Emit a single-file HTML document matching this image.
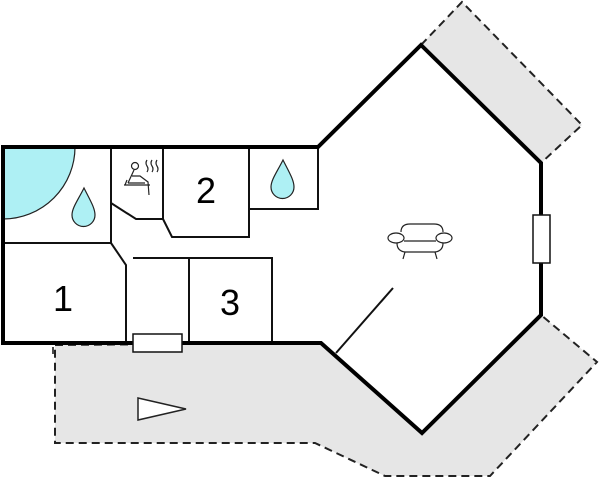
<!DOCTYPE html>
<html><head><style>body{margin:0;background:#fff}svg{display:block}</style></head><body>
<svg width="600" height="479" viewBox="0 0 600 479" xmlns="http://www.w3.org/2000/svg">
<g fill="#e6e6e6" stroke="#222" stroke-width="2" stroke-dasharray="8,5">
<polygon points="421,45 462,2 582,125 541,163"/>
<polygon points="55,345 321,343 422,433 541,315 597,362 490,476 385,476 315,443 55,443"/>
</g>
<polygon points="3,147 318,147 421,45 541,163 541,315 422,433 321,343 3,343" fill="#fff"/>
<path d="M3,147 H75 A72,72 0 0 1 3,219 Z" fill="#aef0f4" stroke="#222" stroke-width="1.2"/>
<g fill="none" stroke="#111" stroke-width="2">
<path d="M111,147 V243 H3"/>
<path d="M111,243 L126,265 V343"/>
<path d="M133,258 H272 V343"/>
<path d="M189,258 V343"/>
<path d="M163,147 V219 H136 L111,203"/>
<path d="M163,219 L172,237 H249 V147"/>
<path d="M249,209 H318 V147"/>
<path d="M336,353 L393,288"/>
</g>
<g fill="none" stroke="#000" stroke-width="4" stroke-linejoin="miter">
<path d="M3,343 V147 H318 L421,45 L541,163 V315 L422,433 L321,343 H3 Z"/>
</g>
<rect x="133" y="334" width="49" height="18" fill="#fff" stroke="#111" stroke-width="1.5"/>
<rect x="533" y="215" width="17" height="48" fill="#fff" stroke="#111" stroke-width="1.5"/>
<line x1="53" y1="347" x2="53" y2="354" stroke="#111" stroke-width="1.5"/>
<polygon points="138,398 186,409 138,420" fill="#fff" stroke="#222" stroke-width="1.5"/>
<g fill="#aef0f4" stroke="#222" stroke-width="1.2">
<path d="M84,188 C78,200 72,208 72,215 A11,11 0 0 0 95,215 C95,208 90,200 84,188 Z"/>
<path d="M283,160 C277,172 271,180 271,187 A11,11 0 0 0 294,187 C294,180 289,172 283,160 Z"/>
</g>
<g fill="none" stroke="#222" stroke-width="1.2">
<path d="M401,232 Q401,224 410,224 H434 Q443,224 443,232"/>
<ellipse cx="396" cy="238" rx="8" ry="5" fill="#fff"/>
<ellipse cx="444" cy="238" rx="8" ry="5" fill="#fff"/>
<path d="M404,241 H436"/>
<path d="M397,243 Q397,251 405,252 H435 Q443,251 443,243"/>
<path d="M405,252 L403,259 M435,252 L437,259"/>
<circle cx="135" cy="166" r="3.5"/>
<path d="M134,170 L128,183 M132,176 L140,176 L148,182 L149,195 M128,183 H145 M124,185 H150 M127,180 L125,185 M152,160 q-2,3 0,6 q2,3 0,6 M147,160 q-2,3 0,6 q2,3 0,6 M157,160 q-2,3 0,6 q2,3 0,6"/>
</g>
<g font-family="Liberation Sans, sans-serif" font-size="36" fill="#000" text-anchor="middle">
<text x="63" y="311">1</text>
<text x="206" y="203">2</text>
<text x="230" y="315">3</text>
</g>
</svg>
</body></html>
